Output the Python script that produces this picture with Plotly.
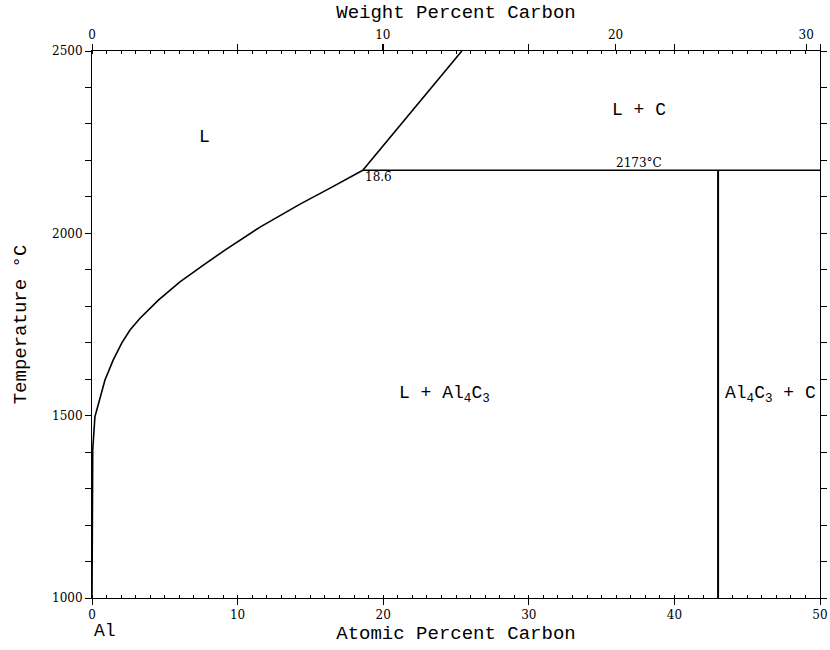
import plotly.graph_objects as go

# Al-C phase diagram (temperature vs. atomic percent carbon)

# Liquidus on the Al-rich side, up to the eutectic at 18.6 at.% C
liq_at = [0.0, 0.0, 0.05, 0.2, 0.55, 0.89, 1.46, 2.04, 2.61, 3.30, 4.56, 6.04, 7.65, 9.13, 11.54, 14.29, 16.35, 18.6]
liq_T = [1000, 1390, 1406, 1497, 1552, 1598, 1653, 1699, 1735, 1767, 1817, 1867, 1913, 1954, 2017, 2080, 2124, 2173]

# Liquidus above the eutectic (L / L + C boundary)
upper_at = [18.6, 25.4]
upper_T = [2173, 2500]

# Eutectic isotherm
eut_at = [18.6, 50.0]
eut_T = [2173, 2173]

# Al4C3 line compound
comp_at = [43.0, 43.0]
comp_T = [1000, 2173]

x_ticks = [0, 10, 20, 30, 40, 50]
y_ticks = [1000, 1500, 2000, 2500]
wt_ticks = [0, 10, 20, 30]

M_AL = 26.982
M_C = 12.011


def at_from_wt(w):
    """Convert weight percent carbon to atomic percent carbon."""
    nc = w / M_C
    na = (100.0 - w) / M_AL
    return 100.0 * nc / (nc + na)


wt_pos = [at_from_wt(w) for w in wt_ticks]

MONO = "Liberation Mono, Courier New, monospace"
SERIF = "DejaVu Serif, serif"

fig = go.Figure()
for xs, ys, w in [(liq_at, liq_T, 1.6), (upper_at, upper_T, 1.6),
                  (eut_at, eut_T, 1.6), (comp_at, comp_T, 2.0)]:
    fig.add_trace(go.Scatter(x=xs, y=ys, mode="lines",
                             line=dict(color="black", width=w),
                             showlegend=False, hoverinfo="skip", cliponaxis=True))

# Transparent helper trace so the weight-percent axis is rendered
fig.add_trace(go.Scatter(x=[0, 50], y=[1000, 2500], xaxis="x2", yaxis="y",
                         mode="markers", marker=dict(opacity=0),
                         showlegend=False, hoverinfo="skip"))

axis_common = dict(showgrid=False, zeroline=False, showline=True, mirror="allticks",
                   linecolor="black", linewidth=1, tickcolor="black")

fig.update_layout(
    width=830, height=650,
    margin=dict(l=92, r=10, t=51, b=52, autoexpand=False),
    paper_bgcolor="white", plot_bgcolor="white",
    xaxis=dict(**axis_common, range=[0, 50], tickmode="array", tickvals=x_ticks,
               ticks="outside", ticklen=6, tickwidth=1,
               minor=dict(dtick=1, tick0=0, ticks="inside", ticklen=3, tickcolor="black"),
               tickfont=dict(family=SERIF, size=12, color="black"),
               title=dict(text="Atomic Percent Carbon", standoff=4,
                          font=dict(family=MONO, size=19, color="black"))),
    xaxis2=dict(showgrid=False, zeroline=False, showline=False, range=[0, 50],
                overlaying="x", side="top", anchor="y",
                tickmode="array", tickvals=wt_pos, ticktext=[str(w) for w in wt_ticks],
                ticks="outside", ticklen=6, tickcolor="black",
                tickfont=dict(family=SERIF, size=12, color="black"),
                title=dict(text="Weight Percent Carbon", standoff=4,
                           font=dict(family=MONO, size=19, color="black"))),
    yaxis=dict(**axis_common, range=[1000, 2500], tickmode="array", tickvals=y_ticks,
               ticks="outside", ticklen=6,
               minor=dict(dtick=100, tick0=1000, ticks="outside", ticklen=3, tickcolor="black"),
               tickfont=dict(family=SERIF, size=12, color="black"),
               title=dict(text="Temperature °C", standoff=20,
                          font=dict(family=MONO, size=19, color="black"))),
)

label_font = dict(family=MONO, size=18, color="black")
small_font = dict(family=SERIF, size=12, color="black")

annotations = [
    dict(x=7.76, y=2264, text="L", font=label_font, xanchor="center", yanchor="middle"),
    dict(x=37.6, y=2338, text="L + C", font=label_font, xanchor="center", yanchor="middle"),
    dict(x=24.2, y=1557, text="L + Al<sub>4</sub>C<sub>3</sub>", font=label_font,
         xanchor="center", yanchor="middle"),
    dict(x=46.6, y=1557, text="Al<sub>4</sub>C<sub>3</sub> + C", font=label_font,
         xanchor="center", yanchor="middle"),
    dict(x=37.6, y=2173, text="2173°C", font=small_font, xanchor="center", yanchor="bottom",
         yshift=-2),
    dict(x=18.6, y=2173, text="18.6", font=small_font, xanchor="left", yanchor="top",
         xshift=0, yshift=2),
]
for a in annotations:
    fig.add_annotation(showarrow=False, xref="x", yref="y", **a)

fig.add_annotation(x=0, y=-0.038, xref="paper", yref="paper", text="Al",
                   showarrow=False, xanchor="left", yanchor="top", font=label_font)

fig.write_html("out.html")
